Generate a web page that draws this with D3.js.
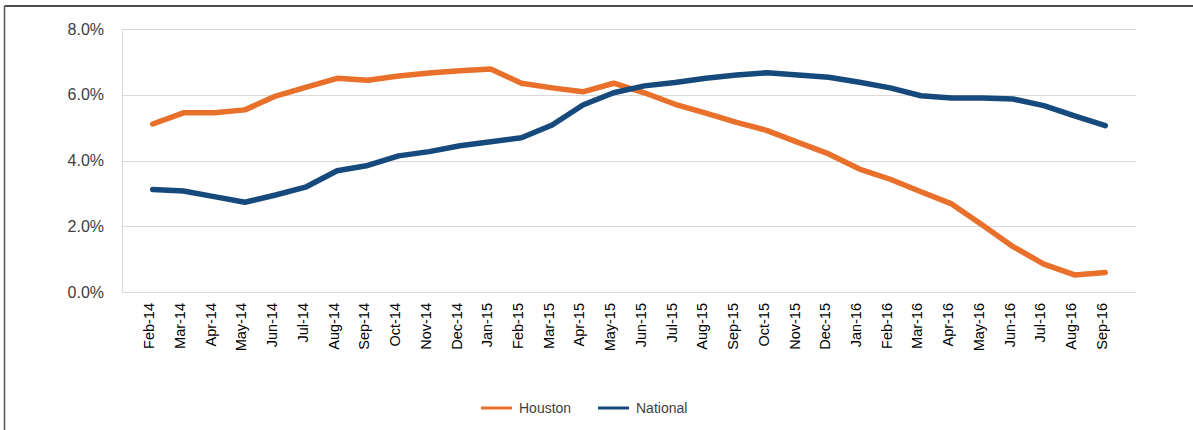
<!DOCTYPE html>
<html>
<head>
  <meta charset="utf-8">
  <title>Houston vs National</title>
  <script src="https://d3js.org/d3.v7.min.js"></script>
  <style>
    body {
      margin: 0;
      padding: 0;
      background: white;
      font-family: "Liberation Sans", Arial, sans-serif;
    }
    .grid line { stroke: #d9d9d9; stroke-width: 1; }
    .ylab { font-size: 16px; fill: #404040; }
    .xlab { font-size: 14.5px; fill: #000; }
    .legend text { font-size: 14px; fill: #404040; }
  </style>
</head>
<body>
  <div id="chart"></div>
  <script>
    // months on the category axis
    var months = ["Feb-14","Mar-14","Apr-14","May-14","Jun-14","Jul-14","Aug-14","Sep-14",
      "Oct-14","Nov-14","Dec-14","Jan-15","Feb-15","Mar-15","Apr-15","May-15","Jun-15",
      "Jul-15","Aug-15","Sep-15","Oct-15","Nov-15","Dec-15","Jan-16","Feb-16","Mar-16",
      "Apr-16","May-16","Jun-16","Jul-16","Aug-16","Sep-16"];

    // values in percent
    var houston = [5.11, 5.45, 5.45, 5.54, 5.96, 6.23, 6.50, 6.44, 6.57, 6.66, 6.73, 6.78,
      6.35, 6.21, 6.09, 6.35, 6.06, 5.71, 5.44, 5.16, 4.91, 4.55, 4.20, 3.74, 3.43, 3.05,
      2.68, 2.04, 1.38, 0.85, 0.52, 0.59];
    var national = [3.12, 3.07, 2.90, 2.73, 2.95, 3.20, 3.69, 3.85, 4.14, 4.27, 4.45, 4.57,
      4.69, 5.08, 5.69, 6.06, 6.27, 6.37, 6.50, 6.60, 6.67, 6.60, 6.53, 6.38, 6.21, 5.97,
      5.90, 5.90, 5.87, 5.67, 5.36, 5.06];

    var yTicks = [0, 2, 4, 6, 8];

    var width = 1193, height = 430;
    var plotLeft = 122, plotRight = 1136, plotTop = 29, plotBottom = 292;

    var svg = d3.select("#chart").append("svg")
      .attr("width", width)
      .attr("height", height);

    // frame (only top and left edges show)
    svg.append("line").attr("x1", 4.5).attr("x2", width).attr("y1", 6).attr("y2", 6)
      .attr("stroke", "#111").attr("stroke-width", 1.5);
    svg.append("line").attr("x1", 4.5).attr("x2", 4.5).attr("y1", 6).attr("y2", height)
      .attr("stroke", "#555").attr("stroke-width", 1.5);

    var x = d3.scalePoint()
      .domain(months)
      .range([plotLeft, plotRight])
      .padding(1);

    var y = d3.scaleLinear()
      .domain([0, 8])
      .range([plotBottom, plotTop]);

    // gridlines
    svg.append("g").attr("class", "grid")
      .selectAll("line")
      .data(yTicks)
      .enter().append("line")
        .attr("x1", plotLeft).attr("x2", plotRight)
        .attr("y1", function(d) { return Math.round(y(d)) + 0.5; })
        .attr("y2", function(d) { return Math.round(y(d)) + 0.5; });

    svg.append("line")
      .attr("x1", plotLeft + 0.5).attr("x2", plotLeft + 0.5)
      .attr("y1", plotTop).attr("y2", plotBottom)
      .attr("stroke", "#d9d9d9");

    // y labels
    svg.selectAll(".ylab")
      .data(yTicks)
      .enter().append("text")
        .attr("class", "ylab")
        .attr("x", 104)
        .attr("y", function(d) { return y(d); })
        .attr("dy", "0.35em")
        .attr("text-anchor", "end")
        .text(function(d) { return d.toFixed(1) + "%"; });

    // x labels, rotated
    svg.selectAll(".xlab")
      .data(months)
      .enter().append("text")
        .attr("class", "xlab")
        .attr("transform", function(d) { return "translate(" + (x(d) + 1.5) + ",303) rotate(-90)"; })
        .attr("text-anchor", "end")
        .text(function(d) { return d; });

    var line = d3.line()
      .x(function(d, i) { return x(months[i]); })
      .y(function(d) { return y(d); });

    svg.append("path")
      .datum(houston)
      .attr("d", line)
      .attr("fill", "none")
      .attr("stroke", "#e8702a")
      .attr("stroke-width", 5.5)
      .attr("stroke-linecap", "round")
      .attr("stroke-linejoin", "round");

    svg.append("path")
      .datum(national)
      .attr("d", line)
      .attr("fill", "none")
      .attr("stroke", "#174a7c")
      .attr("stroke-width", 5.5)
      .attr("stroke-linecap", "round")
      .attr("stroke-linejoin", "round");

    // legend
    var legend = svg.append("g").attr("class", "legend");
    var items = [
      { name: "Houston", color: "#e8702a", x: 481 },
      { name: "National", color: "#174a7c", x: 598 }
    ];
    items.forEach(function(it) {
      legend.append("line")
        .attr("x1", it.x).attr("x2", it.x + 31)
        .attr("y1", 408).attr("y2", 408)
        .attr("stroke", it.color).attr("stroke-width", 3);
      legend.append("text")
        .attr("x", it.x + 38).attr("y", 408)
        .attr("dy", "0.35em")
        .text(it.name);
    });
  </script>
</body>
</html>
